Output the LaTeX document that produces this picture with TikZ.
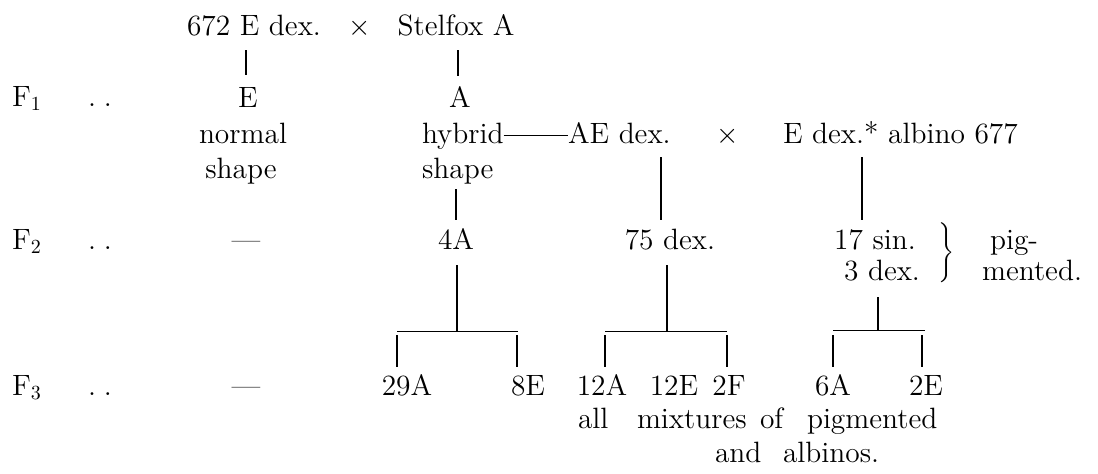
\documentclass[tikz,border=0pt]{standalone}
\begin{document}
\begin{tikzpicture}[x=0.5pt,y=-0.5pt,
  every node/.style={font=\fontsize{14.7}{17}\selectfont, inner sep=0pt, outer sep=0pt},
  lbl/.style={anchor=base},
  lblw/.style={anchor=base west},
  conn/.style={line width=0.6pt},
  bar/.style={line width=0.4pt}]
\useasboundingbox (0,0) rectangle (1098,473);

% parents
\node[lbl] (p672) at (254,35) {672 E dex.};
\node[lbl] (x1) at (360,35) {$\times$};
\node[lbl] (stel) at (456,35) {Stelfox A};

% F1
\node[lblw] (F1) at (12,106) {F$_1$};
\node[lblw] (d1) at (88,106) {.\hspace{4pt}.};
\node[lbl] (f1E) at (248,107) {E};
\node[lbl] (f1A) at (460,107) {A};
\node[lbl] (normal) at (243,143) {normal};
\node[lbl] (shapeN) at (241,178) {shape};
\node[lblw] (hybrid) at (422,143) {hybrid};
\node[lblw] (shapeH) at (422,178) {shape};
\node[lblw] (AE) at (568,143) {AE dex.};
\node[lbl] (x2) at (728,143) {$\times$};
\node[lblw] (Edex) at (783,143) {E dex.* albino 677};

\coordinate (tEa) at (246,50);  \coordinate (tEb) at (246,75);
\coordinate (tAa) at (458,50);  \coordinate (tAb) at (458,76);
\draw[conn] (tEa) -- (tEb);
\draw[conn] (tAa) -- (tAb);
\draw[bar] ([yshift=4pt]hybrid.base east) -- ([yshift=4pt]AE.base west);

% F2
\node[lblw] (F2) at (12,249) {F$_2$};
\node[lblw] (d2) at (88,249) {.\hspace{4pt}.};
\node[lbl] (dash2) at (246,249) {---};
\node[lbl] (n4A) at (456,249) {4A};
\node[lbl] (n75) at (670,249) {75 dex.};
\node[lbl] (n17) at (875,249) {17 sin.};
\node[lbl] (n3) at (882,280) {3 dex.};
\node (brace) at (945,254) {$\left.\vrule height 13pt depth 13pt width 0pt\right\}$};
\node[lblw] (pig) at (990,249) {pig-};
\node[lblw] (mented) at (982,280) {mented.};

\coordinate (vH1) at (456,189); \coordinate (vH2) at (456,220);
\coordinate (vAE1) at (661,157); \coordinate (vAE2) at (661,220);
\coordinate (vE1) at (862,157); \coordinate (vE2) at (862,220);
\draw[conn] (vH1) -- (vH2);
\draw[conn] (vAE1) -- (vAE2);
\draw[conn] (vE1) -- (vE2);

% F3
\node[lblw] (F3) at (12,395) {F$_3$};
\node[lblw] (d3) at (88,395) {.\hspace{4pt}.};
\node[lbl] (dash3) at (246,395) {---};
\node[lbl] (n29A) at (407,395) {29A};
\node[lbl] (n8E) at (528,395) {8E};
\node[lbl] (n12A) at (602,395) {12A};
\node[lbl] (n12E) at (674,395) {12E};
\node[lbl] (n2F) at (729,395) {2F};
\node[lbl] (n6A) at (833,395) {6A};
\node[lbl] (n2E) at (926,395) {2E};

% tree 4A
\coordinate (a0) at (457,265); \coordinate (a1) at (457,331);
\coordinate (aL) at (397,331); \coordinate (aR) at (518,331);
\coordinate (aL1) at (397,335); \coordinate (aL2) at (397,367);
\coordinate (aR1) at (517,335); \coordinate (aR2) at (517,367);
\draw[conn] (a0) -- (a1);
\draw[bar] (aL) -- (aR);
\draw[conn] (aL1) -- (aL2);
\draw[conn] (aR1) -- (aR2);

% tree 75
\coordinate (b0) at (667,265); \coordinate (b1) at (667,331);
\coordinate (bL) at (605,331); \coordinate (bR) at (727,331);
\coordinate (bL1) at (605,335); \coordinate (bL2) at (605,367);
\coordinate (bR1) at (727,335); \coordinate (bR2) at (727,367);
\draw[conn] (b0) -- (b1);
\draw[bar] (bL) -- (bR);
\draw[conn] (bL1) -- (bL2);
\draw[conn] (bR1) -- (bR2);

% tree 3 dex
\coordinate (c0) at (878,297); \coordinate (c1) at (878,330);
\coordinate (cL) at (833,330); \coordinate (cR) at (925,330);
\coordinate (cL1) at (833,335); \coordinate (cL2) at (833,367);
\coordinate (cR1) at (922,335); \coordinate (cR2) at (922,367);
\draw[conn] (c0) -- (c1);
\draw[bar] (cL) -- (cR);
\draw[conn] (cL1) -- (cL2);
\draw[conn] (cR1) -- (cR2);

% note
\node[lblw] (all) at (578,428) {all};
\node[lblw] (mix) at (637,428) {mixtures};
\node[lblw] (of) at (760,428) {of};
\node[lblw] (pigm) at (807,428) {pigmented};
\node[lblw] (and) at (715,462) {and};
\node[lblw] (alb) at (783,462) {albinos.};
\end{tikzpicture}
\end{document}
